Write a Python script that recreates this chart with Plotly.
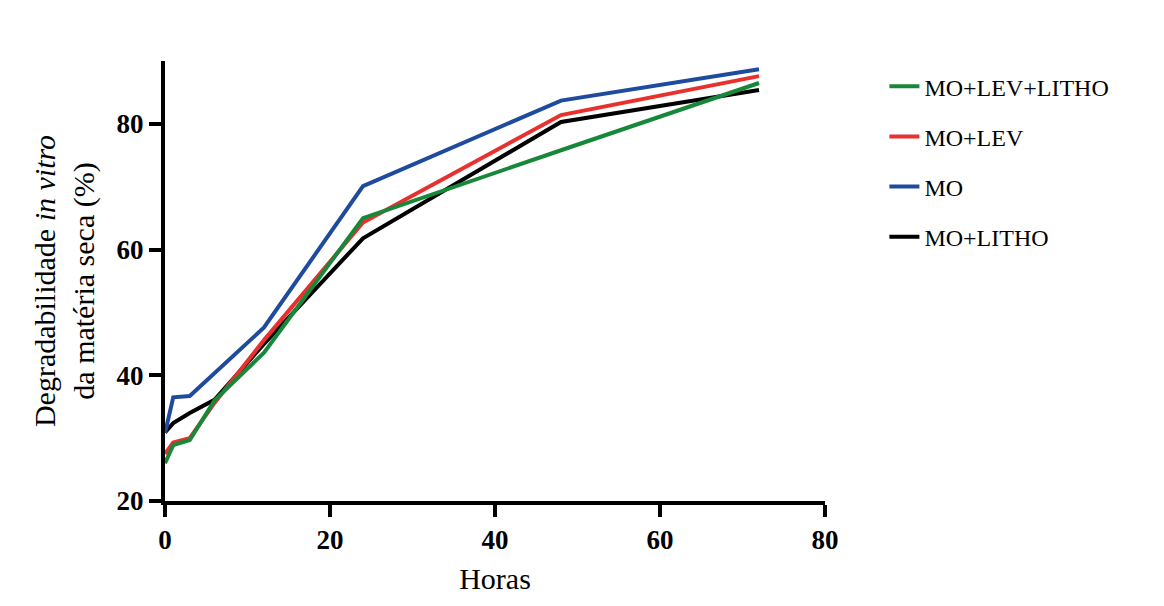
import plotly.graph_objects as go

horas = [0, 1, 3, 6, 12, 24, 48, 72]
mo_lev_litho = [26.0, 28.9, 29.7, 36.0, 43.6, 65.0, 75.8, 86.5]
mo_lev = [27.5, 29.3, 30.0, 35.6, 45.6, 64.3, 81.4, 87.6]
mo = [30.8, 36.5, 36.7, 40.3, 47.6, 70.1, 83.7, 88.7]
mo_litho = [30.9, 32.4, 34.0, 36.1, 45.0, 61.8, 80.3, 85.4]

series = [
    ("MO+LITHO", mo_litho, "#000000", 4),
    ("MO", mo, "#1f4b9e", 3),
    ("MO+LEV", mo_lev, "#e8302e", 2),
    ("MO+LEV+LITHO", mo_lev_litho, "#17873a", 1),
]

fig = go.Figure()
for name, ys, color, rank in series:
    fig.add_trace(go.Scatter(
        x=horas, y=ys, mode="lines", name=name,
        line=dict(color=color, width=4),
        legendgroup=name, legendrank=rank,
    ))

serif = "Liberation Serif"
axis_common = dict(
    showgrid=False, zeroline=False, showline=True, linewidth=4, linecolor="black",
    ticks="outside", ticklen=12, tickwidth=4, tickcolor="black",
    tickfont=dict(family=serif, size=27, color="black", weight="bold"),
)

fig.update_layout(
    width=1156, height=598,
    paper_bgcolor="white", plot_bgcolor="white",
    margin=dict(l=157, r=339, t=53, b=105),
    font=dict(family=serif, color="black"),
    xaxis=dict(range=[0, 80], tickvals=[0, 20, 40, 60, 80],
               title=dict(text="Horas", font=dict(family=serif, size=30), standoff=15),
               **axis_common),
    yaxis=dict(range=[20, 90], tickvals=[20, 40, 60, 80],
               title=dict(text="Degradabilidade <i>in vitro</i><br>da matéria seca (%)",
                          font=dict(family=serif, size=30), standoff=14),
               **axis_common),
    legend=dict(x=1.09, y=0.993, xanchor="left", yanchor="top",
                font=dict(family=serif, size=24, color="black"),
                traceorder="grouped", tracegroupgap=16,
                bgcolor="rgba(0,0,0,0)"),
)

fig.write_html("out.html")
